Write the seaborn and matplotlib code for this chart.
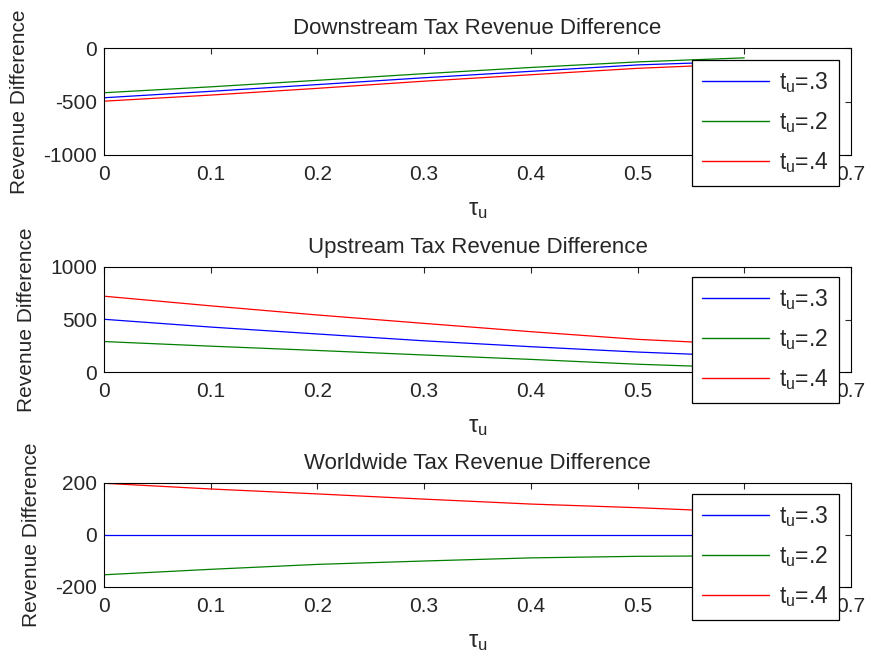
import matplotlib
matplotlib.use("Agg")
import matplotlib.pyplot as plt
import seaborn as sns
import pandas as pd

# tau_u grid and the three revenue difference curves per panel
tau_u = [0.0, 0.1, 0.2, 0.3, 0.4, 0.5, 0.6]

down_t3 = [-465, -405, -342, -278, -218, -158, -125]
down_t2 = [-418, -363, -302, -240, -182, -130, -92]
down_t4 = [-497, -440, -377, -310, -250, -190, -148]

up_t3 = [502, 428, 362, 297, 241, 190, 150]
up_t2 = [290, 246, 205, 162, 120, 74, 40]
up_t4 = [722, 630, 543, 463, 384, 311, 262]

world_t3 = [0, 0, 0, 0, 0, 0, 0]
world_t2 = [-153, -132, -113, -100, -88, -82, -80]
world_t4 = [199, 177, 158, 138, 119, 105, 88]

titles = ["Downstream Tax Revenue Difference",
          "Upstream Tax Revenue Difference",
          "Worldwide Tax Revenue Difference"]
labels = [r"$t_u$=.3", r"$t_u$=.2", r"$t_u$=.4"]
colors = ["#0000ff", "#008000", "#ff0000"]
ylims = [(-1000, 0), (0, 1000), (-200, 200)]
yticks = [[-1000, -500, 0], [0, 500, 1000], [-200, 0, 200]]
xticks = [0, 0.1, 0.2, 0.3, 0.4, 0.5, 0.6, 0.7]
xticklabels = ["0", "0.1", "0.2", "0.3", "0.4", "0.5", "0.6", "0.7"]

panels = [[down_t3, down_t2, down_t4],
          [up_t3, up_t2, up_t4],
          [world_t3, world_t2, world_t4]]

sns.set_style("white")
plt.rcParams["font.family"] = ["Liberation Sans", "DejaVu Sans"]
plt.rcParams["mathtext.fontset"] = "custom"
plt.rcParams["mathtext.rm"] = "Liberation Sans"
plt.rcParams["mathtext.it"] = "Liberation Sans"
plt.rcParams["axes.unicode_minus"] = False
plt.rcParams["font.size"] = 15

W, H = 871, 660
fig = plt.figure(figsize=(W / 100, H / 100), dpi=100)

# axes boxes in pixels: (top spine y, bottom spine y)
boxes = [(48, 155), (267, 372), (483, 587)]
legend_tops = [60, 277, 494]
left, right = 104, 851

for i in range(3):
    top, bottom = boxes[i]
    ax = fig.add_axes([left / W, 1 - bottom / H, (right - left) / W, (bottom - top) / H])

    df = pd.DataFrame({"tau": tau_u * 3,
                       "rev": panels[i][0] + panels[i][1] + panels[i][2],
                       "series": [labels[0]] * 7 + [labels[1]] * 7 + [labels[2]] * 7})
    sns.lineplot(data=df, x="tau", y="rev", hue="series", palette=colors,
                 hue_order=labels, ax=ax, linewidth=0.9)

    ax.set_xlim(0, 0.7)
    ax.set_ylim(*ylims[i])
    ax.set_xticks(xticks)
    ax.set_xticklabels(xticklabels)
    ax.set_yticks(yticks[i])
    ax.tick_params(direction="in", top=True, right=True, length=4, width=0.8,
                   labelsize=15, pad=5)
    ax.tick_params(axis="x", pad=7)
    for sp in ax.spines.values():
        sp.set_color("black")
        sp.set_linewidth(0.8)
    ax.set_title(titles[i], fontsize=16, pad=10)
    ax.set_xlabel(r"$\tau_u$", fontsize=17, labelpad=11)
    ax.set_ylabel("Revenue Difference", fontsize=15, labelpad=10)

    leg = ax.legend(loc="upper left", bbox_to_anchor=(692 / W, 1 - legend_tops[i] / H),
                    bbox_transform=fig.transFigure, borderaxespad=0, fancybox=False,
                    edgecolor="black", framealpha=1, fontsize=16.5, handlelength=2.9,
                    labelspacing=0.66, borderpad=0.45, handletextpad=0.45)
    leg.get_frame().set_linewidth(0.9)
    for h in leg.get_lines():
        h.set_linewidth(1.0)

fig.savefig("out.png", dpi=100, facecolor="white")
